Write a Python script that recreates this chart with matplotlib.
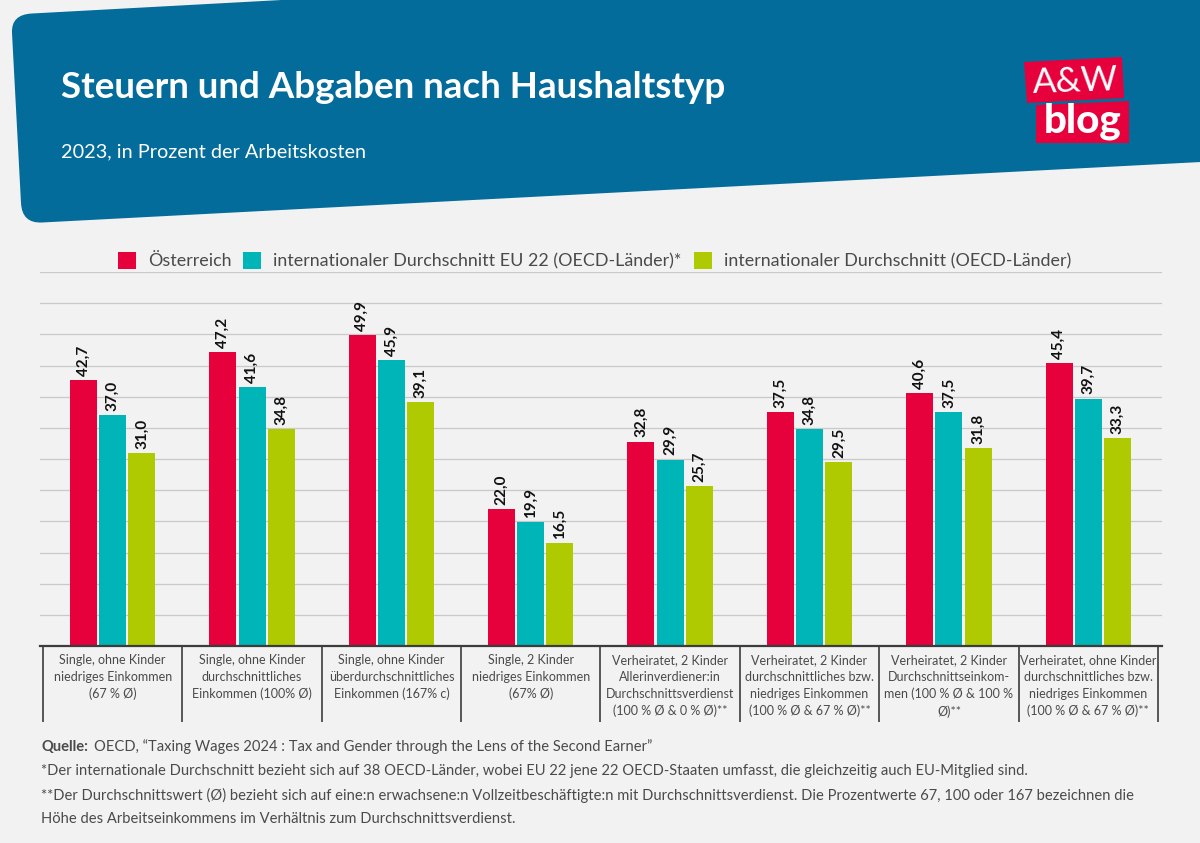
import matplotlib
matplotlib.use("Agg")
import matplotlib.pyplot as plt
from matplotlib.path import Path
from matplotlib.patches import PathPatch, Polygon, Patch

W, H = 1200, 843
BG = "#f2f2f2"
BLUE = "#036c9b"
RED = "#e6003c"
TEAL = "#00b5b8"
LIME = "#afca00"
TXT = "#4a4a4a"

categories = [
    "Single, ohne Kinder\nniedriges Einkommen\n(67 % Ø)",
    "Single, ohne Kinder\ndurchschnittliches\nEinkommen (100% Ø)",
    "Single, ohne Kinder\nüberdurchschnittliches\nEinkommen (167% c)",
    "Single, 2 Kinder\nniedriges Einkommen\n(67% Ø)",
    "Verheiratet, 2 Kinder\nAllerinverdiener:in\nDurchschnittsverdienst\n(100 % Ø & 0 % Ø)**",
    "Verheiratet, 2 Kinder\ndurchschnittliches bzw.\nniedriges Einkommen\n(100 % Ø & 67 % Ø)**",
    "Verheiratet, 2 Kinder\nDurchschnittseinkom-\nmen (100 % Ø & 100 %\nØ)**",
    "Verheiratet, ohne Kinder\ndurchschnittliches bzw.\nniedriges Einkommen\n(100 % Ø & 67 % Ø)**",
]
austria = [42.7, 47.2, 49.9, 22.0, 32.8, 37.5, 40.6, 45.4]
eu22 = [37.0, 41.6, 45.9, 19.9, 29.9, 34.8, 37.5, 39.7]
oecd = [31.0, 34.8, 39.1, 16.5, 25.7, 29.5, 31.8, 33.3]
series_names = ["Österreich", "internationaler Durchschnitt EU 22 (OECD-Länder)*",
                "internationaler Durchschnitt (OECD-Länder)"]
title = "Steuern und Abgaben nach Haushaltstyp"
subtitle = "2023, in Prozent der Arbeitskosten"
notes = [
    "*Der internationale Durchschnitt bezieht sich auf 38 OECD-Länder, wobei EU 22 jene 22 OECD-Staaten umfasst, die gleichzeitig auch EU-Mitglied sind.",
    "**Der Durchschnittswert (Ø) bezieht sich auf eine:n erwachsene:n Vollzeitbeschäftigte:n mit Durchschnittsverdienst. Die Prozentwerte 67, 100 oder 167 bezeichnen die",
    "Höhe des Arbeitseinkommens im Verhältnis zum Durchschnittsverdienst.",
]
source_text = "OECD, “Taxing Wages 2024 : Tax and Gender through the Lens of the Second Earner”"

BODY = "Lato"

fig = plt.figure(figsize=(W / 100, H / 100), dpi=100, facecolor=BG)
renderer = fig.canvas.get_renderer()


def fit_width(text_obj, target_px):
    """Scale a text's font size so that it spans target_px."""
    w = text_obj.get_window_extent(renderer).width
    text_obj.set_fontsize(text_obj.get_fontsize() * target_px / w)


# pixel-space layer
bgax = fig.add_axes([0, 0, 1, 1], zorder=0)
bgax.set_xlim(0, W)
bgax.set_ylim(H, 0)
bgax.axis("off")

MOVE, LINE, CURVE = Path.MOVETO, Path.LINETO, Path.CURVE3
verts_full = [
    (32, 13.5), (300, -1), (1201, -1), (1201, 162), (42, 222.5),
    (22, 223.5), (21, 203), (12, 33), (11, 14.5), (32, 13.5),
]
codes = [MOVE, LINE, LINE, LINE, LINE, CURVE, CURVE, LINE, CURVE, CURVE]
bgax.add_patch(PathPatch(Path(verts_full, codes), fc=BLUE, ec="none"))

t1 = bgax.text(61, 87, title, color="white", fontsize=31, fontweight="bold",
               family=BODY, ha="left", va="center")
fit_width(t1, 664)
t2 = bgax.text(61, 152, subtitle, color="white", fontsize=17.5, family=BODY,
               ha="left", va="center")
fit_width(t2, 306)

# logo
bgax.add_patch(Polygon([(1024, 62), (1122, 57), (1124, 98), (1027, 103)], fc=RED, ec="none"))
bgax.add_patch(Polygon([(1036, 105), (1129, 101), (1129, 143), (1036, 143)], fc=RED, ec="none"))
bgax.text(1075, 82, "A&W", color="white", fontsize=25.5, family=BODY, rotation=2,
          ha="center", va="center")
bgax.text(1083, 121, "blog", color="white", fontsize=29, fontweight=900, family=BODY,
          ha="center", va="center")

# chart axes
L, R, T, B = 40, 1162, 272, 646
ax = fig.add_axes([L / W, 1 - B / H, (R - L) / W, (B - T) / H], zorder=1)
ax.patch.set_alpha(0)
ax.set_ylim(0, 60)
ax.set_xlim(-0.5215, 7.529)
for s in ["top", "left", "right"]:
    ax.spines[s].set_visible(False)
ax.spines["bottom"].set_color("#3c3c3c")
ax.spines["bottom"].set_linewidth(1.6)
ax.set_yticks(range(0, 61, 5))
ax.tick_params(axis="y", length=0, labelleft=False)
ax.grid(axis="y", color="#c9c9c9", lw=0.9)
ax.set_axisbelow(True)

step = 29.2 / 139.4
bw = 27 / 139.4
xs = list(range(len(categories)))
for off, vals, col in zip((-step, 0, step), (austria, eu22, oecd), (RED, TEAL, LIME)):
    pos = [x + off for x in xs]
    ax.bar(pos, vals, width=bw, color=col, zorder=2)
    for p, v in zip(pos, vals):
        ax.annotate(f"{v:.1f}".replace(".", ","), (p, v), xytext=(0, 3), textcoords="offset points",
                    rotation=90, ha="center", va="bottom", fontsize=11, color="#111111",
                    family=BODY, fontweight="bold")

# category separators & labels
ax.set_xticks([i - 0.5 for i in range(len(categories) + 1)], minor=True)
ax.tick_params(axis="x", which="minor", length=76 * 0.72, width=1.3, color="#4a4a4a")
ax.set_xticks(xs)
ax.set_xticklabels(categories, fontsize=9.0, color=TXT, family=BODY, linespacing=1.46, va="top")
ax.tick_params(axis="x", which="major", length=0, pad=6)

handles = [Patch(fc=c, ec="none") for c in (RED, TEAL, LIME)]
leg = fig.legend(handles, series_names, loc="center left", bbox_to_anchor=(118 / W, 1 - 260.5 / H),
                 ncol=3, frameon=False, fontsize=12.9, labelcolor=TXT,
                 handlelength=1.0, handleheight=1.15, handletextpad=0.67, columnspacing=0.67,
                 borderpad=0, borderaxespad=0)
for t in leg.get_texts():
    t.set_family(BODY)

# footer
FS = 10.6
bgax.text(41, 747, "Quelle:", color=TXT, fontsize=FS, fontweight="bold", family=BODY, va="center")
bgax.text(94, 747, source_text, color=TXT, fontsize=FS, family=BODY, va="center")
for y, n in zip((771, 795, 819), notes):
    bgax.text(41, y, n, color=TXT, fontsize=FS, family=BODY, va="center")

fig.savefig("out.png", dpi=100, facecolor=BG)
